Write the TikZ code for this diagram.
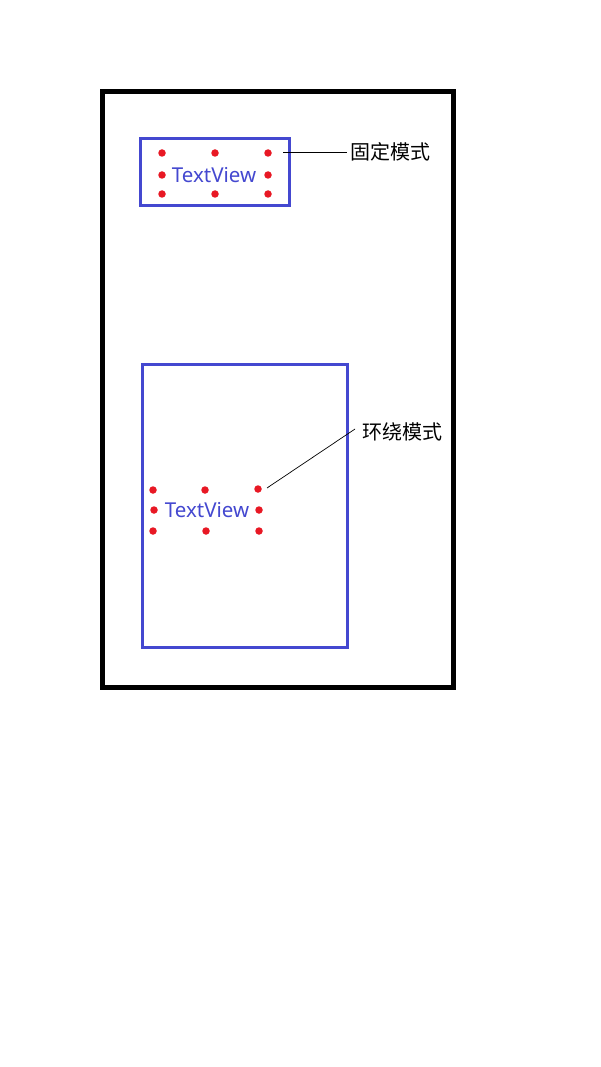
\documentclass[tikz,border=0pt]{standalone}
\usepackage{fontspec}
\setmainfont{Noto Sans}
\newfontfamily\cjk{Noto Sans CJK SC}
\definecolor{tvblue}{RGB}{68,72,208}
\definecolor{dotred}{RGB}{232,24,36}
\begin{document}
\begin{tikzpicture}[x=1pt,y=-1pt,
  frame/.style={draw=black,line width=5pt},
  bluebox/.style={draw=tvblue,line width=3pt},
  tv/.style={text=tvblue,font=\fontsize{20.5}{24}\selectfont,inner sep=0pt},
  handle/.style={circle,fill=dotred,minimum size=7.5pt,inner sep=0pt},
  lbl/.style={font=\cjk\fontsize{20}{24}\selectfont,inner sep=0pt,anchor=west},
  leader/.style={draw=black,line width=0.9pt}]
\useasboundingbox (0,0) rectangle (600,1067);
\fill[white] (0,0) rectangle (600,1067);
% outer frame
\draw[frame] (102.5,91.5) rectangle (453.5,687.5);
% fixed mode
\draw[bluebox] (140.5,138.5) rectangle (289.5,205.5);
\node[tv] (tv1) at (214,175) {TextView};
\foreach \n/\x/\y in {a/162/153,b/215/153,c/268/153,d/162/175,e/268/175,f/162/194,g/215/194,h/268/194}
  \node[handle] (p1\n) at (\x,\y) {};
\node[lbl] (l1) at (350,152) {固定模式};
\coordinate (s1) at (283,152);
\coordinate (e1) at (347,152);
\draw[leader] (s1) -- (e1);
% wrap mode
\draw[bluebox] (142,364) rectangle (347.5,647.5);
\node[tv] (tv2) at (207,510) {TextView};
\foreach \n/\x/\y in {a/153/490,b/205/490,c/258/489,d/154/510,e/259/510,f/153/531,g/206/531,h/259/531}
  \node[handle] (p2\n) at (\x,\y) {};
\node[lbl] (l2) at (362,432) {环绕模式};
\coordinate (s2) at (267,488);
\coordinate (e2) at (355,429);
\draw[leader,line width=0.7pt] (s2) -- (e2);
\end{tikzpicture}
\end{document}
